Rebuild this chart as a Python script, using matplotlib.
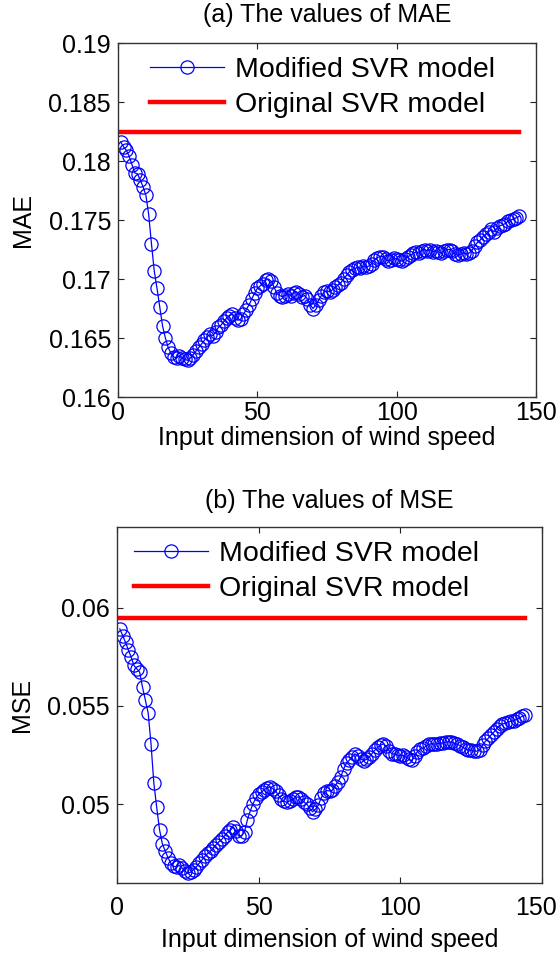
import matplotlib
matplotlib.use("Agg")
import matplotlib.pyplot as plt
from matplotlib.transforms import ScaledTranslation
import numpy as np

plt.rcParams['font.family'] = ['Liberation Sans', 'DejaVu Sans']

dims = list(range(1, 145))

mae_modified = [
    .1816, .1812, .1809, .1804, .1797, .1790, .1789, .1784, .1778, .1771,
    .1755, .1730, .1707, .1692, .1676, .1660, .1650, .1642, .1637, .1634,
    .1633, .1635, .1633, .1632, .1631, .1633, .1636, .1639, .1642, .1645,
    .1648, .1651, .1653, .1652, .1655, .1659, .1661, .1664, .1667, .1669,
    .1670, .1667, .1665, .1666, .1670, .1674, .1678, .1683, .1688, .1692,
    .1694, .1696, .1699, .1700, .1698, .1693, .1688, .1686, .1685, .1686,
    .1687, .1686, .1688, .1689, .1687, .1685, .1686, .1683, .1678, .1675,
    .1678, .1682, .1686, .1689, .1690, .1689, .1691, .1693, .1695, .1697,
    .1700, .1703, .1706, .1708, .1709, .1710, .1709, .1711, .1710, .1711,
    .1713, .1716, .1718, .1719, .1719, .1717, .1715, .1716, .1718, .1717,
    .1716, .1715, .1717, .1719, .1720, .1722, .1723, .1722, .1724, .1725,
    .1724, .1725, .1723, .1724, .1723, .1722, .1724, .1725, .1725, .1724,
    .1721, .1720, .1721, .1722, .1721, .1722, .1724, .1728, .1731, .1733,
    .1736, .1738, .1740, .1742, .1740, .1743, .1745, .1746, .1747, .1749,
    .1750, .1751, .1752, .1753,
]
mae_original = 0.1825

mse_modified = [
    .05892, .05858, .05824, .05785, .05748, .05706, .05689, .05672, .05596, .05531,
    .05465, .05308, .05108, .04986, .04872, .04800, .04763, .04729, .04700, .04685,
    .04682, .04690, .04675, .04660, .04650, .04655, .04668, .04682, .04700, .04718,
    .04735, .04750, .04762, .04778, .04795, .04810, .04822, .04840, .04858, .04868,
    .04885, .04865, .04838, .04840, .04860, .04920, .04965, .05003, .05030, .05050,
    .05062, .05075, .05085, .05088, .05080, .05068, .05045, .05025, .05015, .05010,
    .05018, .05028, .05035, .05038, .05025, .05012, .05000, .04980, .04962, .04975,
    .04995, .05030, .05060, .05070, .05068, .05072, .05095, .05115, .05140, .05180,
    .05210, .05225, .05240, .05257, .05245, .05232, .05222, .05228, .05240, .05258,
    .05275, .05290, .05300, .05308, .05295, .05272, .05257, .05255, .05250, .05248,
    .05249, .05240, .05228, .05223, .05245, .05268, .05280, .05285, .05295, .05305,
    .05308, .05306, .05308, .05310, .05312, .05316, .05318, .05316, .05310, .05305,
    .05299, .05290, .05282, .05275, .05274, .05272, .05270, .05278, .05300, .05320,
    .05335, .05352, .05367, .05385, .05398, .05408, .05412, .05418, .05422, .05426,
    .05432, .05440, .05447, .05452,
]
mse_original = 0.05948

xticks = [0, 50, 100, 150]
mae_yticks = [0.16, 0.165, 0.17, 0.175, 0.18, 0.185, 0.19]
mae_yticklabels = ['0.16', '0.165', '0.17', '0.175', '0.18', '0.185', '0.19']
mse_yticks = [0.05, 0.055, 0.06]
mse_yticklabels = ['0.05', '0.055', '0.06']

TICK_FS = 18
LAB_FS = 18
LEG_FS = 20.5

fig = plt.figure(figsize=(5.6, 9.55), dpi=100)
ax1 = fig.add_axes([118/560, 1-397/955, 418/560, 354/955])
ax2 = fig.add_axes([117/560, 1-883/955, 425/560, 356/955])


def style(ax, xpad):
    ax.tick_params(direction='in', top=True, right=True, length=4, width=0.8,
                   labelsize=TICK_FS, colors='#222222', labelcolor='black')
    ax.tick_params(axis='x', pad=xpad)
    ax.tick_params(axis='y', pad=5)
    for s in ax.spines.values():
        s.set_color('#333333')
        s.set_linewidth(1.0)


def draw(ax, ymod, yorig, title, ylabel, ylim, yt, ytl, legx, tpad, xpad, xlpad):
    ax.plot(dims, ymod, '-o', color='blue', lw=0.9, ms=9.5, mfc='none', mec='blue',
            mew=0.9, label='Modified SVR model')
    ax.plot([dims[0], dims[-1]], [yorig, yorig], '-', color='red', lw=3.2,
            label='Original SVR model')
    ax.set_xlim(0, 150)
    ax.set_ylim(*ylim)
    ax.set_xticks(xticks)
    ax.set_yticks(yt)
    ax.set_yticklabels(ytl)
    ax.set_title(title, fontsize=LAB_FS, pad=tpad)
    ax.set_xlabel('Input dimension of wind speed', fontsize=LAB_FS, labelpad=xlpad)
    ax.set_ylabel(ylabel, fontsize=LAB_FS, labelpad=10)
    style(ax, xpad)
    ax.legend(loc='upper left', bbox_to_anchor=(legx, 0.96), frameon=False,
              fontsize=LEG_FS, handlelength=2.6, handletextpad=0.38, labelspacing=0.32,
              borderpad=0, borderaxespad=0)


draw(ax1, mae_modified, mae_original, '(a) The values of MAE', 'MAE', (0.16, 0.19),
     mae_yticks, mae_yticklabels, 0.077, 15, 3, 0.5)
draw(ax2, mse_modified, mse_original, '(b) The values of MSE', 'MSE', (0.046, 0.0641),
     mse_yticks, mse_yticklabels, 0.04, 14, 9, 6)

# keep the last bottom tick label inside the figure
last = ax2.get_xticklabels()[-1]
last.set_transform(last.get_transform() + ScaledTranslation(-6/100, 0, fig.dpi_scale_trans))

fig.savefig('out.png', dpi=100)
